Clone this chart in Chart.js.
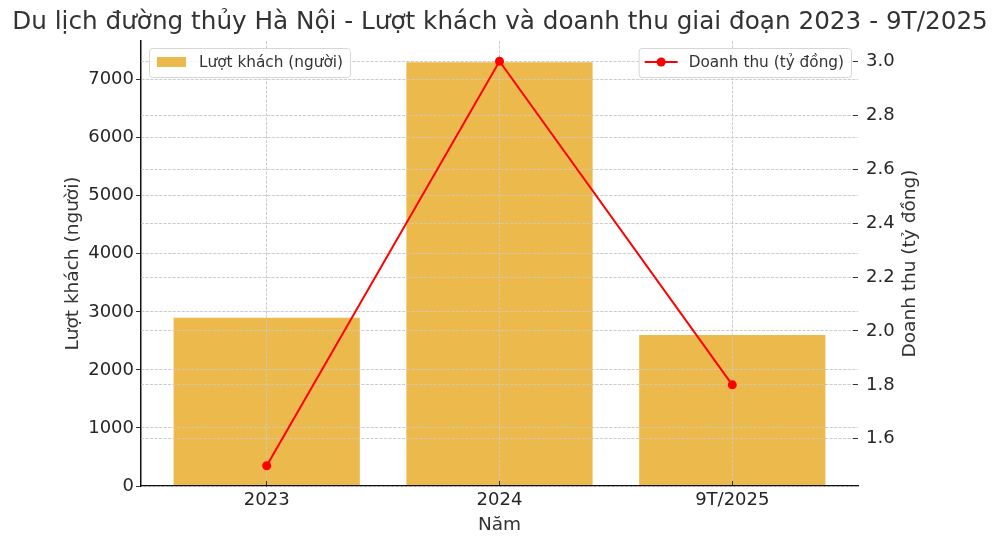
<!DOCTYPE html>
<html>
<head>
<meta charset="utf-8">
<script src="https://cdn.jsdelivr.net/npm/chart.js@4"></script>
<style>
  body { margin: 0; background: #fff; }
  canvas { display: block; }
</style>
</head>
<body>
<canvas id="chart" width="1000" height="545"></canvas>
<script>
var years = ["2023", "2024", "9T/2025"];
var visitors = [2900, 7300, 2600];
var revenue = [1.5, 3.0, 1.8];
var visitorTicks = [0, 1000, 2000, 3000, 4000, 5000, 6000, 7000];
var revenueTicks = [1.6, 1.8, 2.0, 2.2, 2.4, 2.6, 2.8, 3.0];

var barColor = "#ECBA4C";
var lineColor = "#ff0000";
var gridColor = "#cccccc";
var textColor = "#333333";

Chart.defaults.font.family = "'DejaVu Sans', sans-serif";
Chart.defaults.color = textColor;

function fixTicks(list) {
    return function(scale) {
        scale.ticks = list.map(function(v) { return {value: v}; });
    };
}

// matplotlib draws the grid over the bars, so redraw it before the line
var gridOnTop = {
    id: "gridOnTop",
    beforeDatasetDraw: function(chart, args) {
        if (args.index !== 1) return;
        var area = chart.chartArea;
        ["x", "y", "y1"].forEach(function(id) {
            var s = chart.scales[id];
            s.drawGrid(area);
            s.drawBorder();
        });
    }
};

function legendBox(ctx, x, y, w, h) {
    ctx.save();
    ctx.beginPath();
    ctx.roundRect(x, y, w, h, 3);
    ctx.fillStyle = "rgba(255,255,255,0.8)";
    ctx.fill();
    ctx.strokeStyle = "#d6d6d6";
    ctx.lineWidth = 1;
    ctx.stroke();
    ctx.restore();
}

var extras = {
    id: "extras",
    afterDraw: function(chart) {
        var ctx = chart.ctx;
        var ds = chart.data.datasets;
        ctx.save();
        ctx.font = "15.3px 'DejaVu Sans'";
        ctx.textBaseline = "middle";
        ctx.textAlign = "left";

        // left legend (bars)
        var t0 = ds[0].label;
        var w0 = ctx.measureText(t0).width;
        legendBox(ctx, 149.5, 48.5, w0 + 57, 29);
        ctx.fillStyle = ds[0].backgroundColor;
        ctx.fillRect(157, 57, 29, 10);
        ctx.fillStyle = textColor;
        ctx.fillText(t0, 199, 63);

        // right legend (line)
        var t1 = ds[1].label;
        var w1 = ctx.measureText(t1).width;
        var bx = 851 - (w1 + 57);
        legendBox(ctx, bx + 0.5, 48.5, w1 + 57, 29);
        ctx.strokeStyle = ds[1].borderColor;
        ctx.lineWidth = 2;
        ctx.beginPath();
        ctx.moveTo(bx + 6, 62);
        ctx.lineTo(bx + 39, 62);
        ctx.stroke();
        ctx.fillStyle = ds[1].borderColor;
        ctx.beginPath();
        ctx.arc(bx + 22.5, 62, 4.5, 0, Math.PI * 2);
        ctx.fill();
        ctx.fillStyle = textColor;
        ctx.fillText(t1, bx + 50, 63);

        // right axis title reads bottom to top like the reference
        ctx.font = "18.5px 'DejaVu Sans'";
        ctx.textAlign = "center";
        ctx.translate(910, (chart.chartArea.top + chart.chartArea.bottom) / 2);
        ctx.rotate(-Math.PI / 2);
        ctx.fillText("Doanh thu (tỷ đồng)", 0, 0);
        ctx.restore();
    }
};

function gridOpts(tickLen) {
    return {color: gridColor, lineWidth: 0.8, tickLength: tickLen, tickColor: "#333", tickWidth: 1, tickBorderDash: [], offset: false};
}

var ctx = document.getElementById("chart").getContext("2d");
new Chart(ctx, {
    type: "bar",
    data: {
        datasets: [{
            type: "bar",
            label: "Lượt khách (người)",
            data: visitors.map(function(v, i) { return {x: i, y: v}; }),
            backgroundColor: barColor,
            categoryPercentage: 1.0,
            barPercentage: 0.8,
            yAxisID: "y",
            order: 1
        }, {
            type: "line",
            label: "Doanh thu (tỷ đồng)",
            data: revenue.map(function(v, i) { return {x: i, y: v}; }),
            borderColor: lineColor,
            backgroundColor: lineColor,
            borderWidth: 2,
            pointRadius: 4.5,
            pointBackgroundColor: lineColor,
            pointBorderWidth: 0,
            yAxisID: "y1",
            order: 0
        }]
    },
    options: {
        responsive: false,
        animation: false,
        layout: {padding: 0},
        plugins: {
            legend: {display: false},
            tooltip: {enabled: false},
            title: {
                display: true,
                text: "Du lịch đường thủy Hà Nội - Lượt khách và doanh thu giai đoạn 2023 - 9T/2025",
                color: textColor,
                font: {size: 24.7, weight: "normal"},
                padding: {top: 8, bottom: 3.4}
            }
        },
        scales: {
            x: {
                type: "linear",
                offset: false,
                min: -0.54,
                max: 2.54,
                afterBuildTicks: fixTicks([0, 1, 2]),
                afterFit: function(s) { s.height = 59; },
                ticks: {
                    font: {size: 18},
                    color: "#262626",
                    padding: 9,
                    callback: function(v) { return years[v]; }
                },
                grid: gridOpts(-5),
                border: {display: true, color: "#111", width: 1.3, dash: [3, 1.5]},
                title: {display: true, text: "Năm", font: {size: 18.5}, color: textColor, padding: {top: 0, bottom: 8.5}}
            },
            y: {
                position: "left",
                min: 0,
                max: 7665,
                afterBuildTicks: fixTicks(visitorTicks),
                afterFit: function(s) { s.width = 141; },
                ticks: {
                    font: {size: 18},
                    color: "#262626",
                    padding: 2,
                    callback: function(v) { return String(v); }
                },
                grid: gridOpts(5),
                border: {display: true, color: "#111", width: 1.3, dash: [3, 1.5]},
                title: {display: true, text: "Lượt khách (người)", font: {size: 18.5}, color: textColor, padding: {top: 62, bottom: 0}}
            },
            y1: {
                position: "right",
                min: 1.425,
                max: 3.075,
                afterBuildTicks: fixTicks(revenueTicks),
                afterFit: function(s) { s.width = 142; },
                ticks: {
                    font: {size: 18},
                    color: "#262626",
                    padding: 13,
                    callback: function(v) { return v.toFixed(1); }
                },
                grid: gridOpts(-5),
                border: {display: false, dash: [3, 1.5]}
            }
        }
    },
    plugins: [gridOnTop, extras]
});
</script>
</body>
</html>
